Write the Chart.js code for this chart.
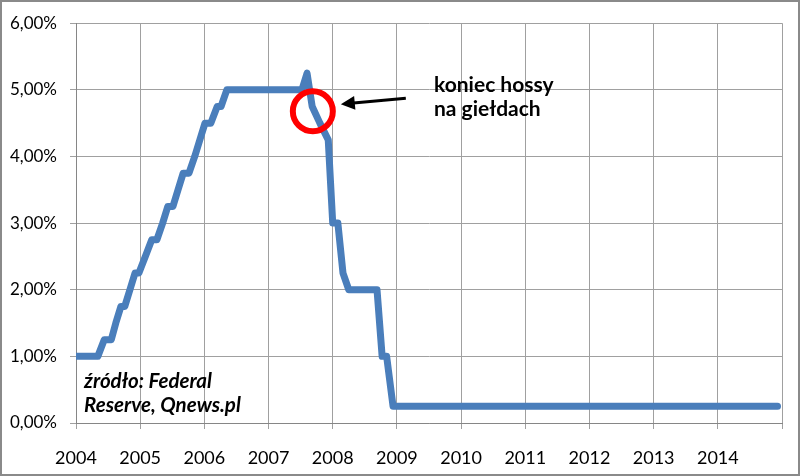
<!DOCTYPE html>
<html>
<head>
<meta charset="utf-8">
<script src="https://cdn.jsdelivr.net/npm/chart.js@4"></script>
<style>
  body { margin: 0; background: #fff; }
  #wrap { width: 800px; height: 476px; }
</style>
</head>
<body>
<div id="wrap"><canvas id="Stopy" width="800" height="476"></canvas></div>
<script>
// stopa funduszy federalnych - punkty (rok dziesietny, %)
const lata = [2004.00, 2004.34, 2004.44, 2004.55, 2004.62, 2004.70, 2004.76, 2004.84, 2004.92, 2004.98,
  2005.08, 2005.18, 2005.26, 2005.35, 2005.43, 2005.51, 2005.59, 2005.67, 2005.76, 2005.85,
  2005.93, 2006.01, 2006.10, 2006.20, 2006.26, 2006.35, 2007.52, 2007.60, 2007.68, 2007.80,
  2007.93, 2008.00, 2008.08, 2008.16, 2008.25, 2008.69, 2008.77, 2008.84, 2008.94, 2014.93];
const stopa = [1.00, 1.00, 1.25, 1.25, 1.50, 1.75, 1.75, 2.00, 2.25, 2.25,
  2.50, 2.75, 2.75, 3.00, 3.25, 3.25, 3.50, 3.75, 3.75, 4.00,
  4.25, 4.50, 4.50, 4.75, 4.75, 5.00, 5.00, 5.25, 4.75, 4.50,
  4.25, 3.00, 3.00, 2.25, 2.00, 2.00, 1.00, 1.00, 0.25, 0.25];
const etykietyLat = ['2004', '2005', '2006', '2007', '2008', '2009', '2010', '2011', '2012', '2013', '2014'];
const tickiY = [0, 1, 2, 3, 4, 5, 6];
const koniecHossy = { x: 2007.69, y: 4.68 };
const podpis = ['koniec hossy', 'na giełdach'];
const zrodlo = ['źródło: Federal', 'Reserve, Qnews.pl'];

const punkty = lata.map((r, i) => ({ x: r, y: stopa[i] }));

const tlo = {
  id: 'tlo',
  beforeDraw(chart) {
    const c = chart.ctx;
    c.save();
    c.fillStyle = '#fff';
    c.fillRect(0, 0, chart.width, chart.height);
    c.restore();
  },
  afterDraw(chart) {
    const c = chart.ctx;
    c.save();
    c.strokeStyle = '#8a8a8a';
    c.lineWidth = 2;
    c.strokeRect(1, 1, chart.width - 2, chart.height - 2);
    c.restore();
  }
};

const adnotacje = {
  id: 'adnotacje',
  afterDatasetsDraw(chart) {
    const c = chart.ctx;
    const sx = chart.scales.x, sy = chart.scales.y;
    const cx = sx.getPixelForValue(koniecHossy.x);
    const cy = sy.getPixelForValue(koniecHossy.y);
    c.save();
    // czerwone kolko
    c.strokeStyle = '#ff0000';
    c.lineWidth = 6;
    c.beginPath();
    c.arc(cx, cy, 20, 0, Math.PI * 2);
    c.stroke();
    // strzalka
    const x0 = cx + 93, y0 = cy - 13, x1 = cx + 28, y1 = cy - 7;
    const ang = Math.atan2(y1 - y0, x1 - x0);
    c.strokeStyle = '#000';
    c.fillStyle = '#000';
    c.lineWidth = 3;
    c.beginPath();
    c.moveTo(x0, y0);
    c.lineTo(x1 - 10 * Math.cos(ang), y1 - 10 * Math.sin(ang));
    c.stroke();
    c.beginPath();
    c.moveTo(x1, y1);
    c.lineTo(x1 - 14 * Math.cos(ang) + 7 * Math.sin(ang), y1 - 14 * Math.sin(ang) - 7 * Math.cos(ang));
    c.lineTo(x1 - 14 * Math.cos(ang) - 7 * Math.sin(ang), y1 - 14 * Math.sin(ang) + 7 * Math.cos(ang));
    c.closePath();
    c.fill();
    // teksty
    c.font = 'bold 21px Lato';
    c.textAlign = 'left';
    c.textBaseline = 'alphabetic';
    c.fillText(podpis[0], 434, 92);
    c.fillText(podpis[1], 434, 116);
    c.font = 'italic bold 20.5px Lato';
    c.fillText(zrodlo[0], 84, 388);
    c.fillText(zrodlo[1], 84, 412);
    c.restore();
  }
};

new Chart(document.getElementById('Stopy').getContext('2d'), {
  type: 'scatter',
  data: {
    datasets: [{
      data: punkty,
      showLine: true,
      borderColor: '#4a7ebb',
      backgroundColor: '#4a7ebb',
      borderWidth: 7,
      borderJoinStyle: 'round',
      borderCapStyle: 'round',
      pointRadius: 0,
      pointHoverRadius: 0,
      tension: 0
    }]
  },
  options: {
    responsive: false,
    animation: false,
    layout: { padding: { top: 22, right: 18, left: 0, bottom: 0 } },
    plugins: { legend: { display: false }, tooltip: { enabled: false } },
    scales: {
      x: {
        type: 'linear',
        min: 2004,
        max: 2015,
        afterFit(s) { s.height = 53; },
        afterBuildTicks(s) { s.ticks = etykietyLat.map(v => ({ value: +v })).concat([{ value: 2015 }]); },
        grid: { color: '#a0a0a0', lineWidth: 1, tickLength: 6, drawTicks: true },
        border: { color: '#868686', width: 1 },
        ticks: {
          autoSkip: false,
          maxRotation: 0,
          padding: 18,
          color: '#000',
          font: { family: 'Lato', size: 18 },
          callback: (v) => etykietyLat.includes(String(v)) ? String(v) : ''
        }
      },
      y: {
        min: 0,
        max: 6,
        afterFit(s) { s.width = 76; },
        afterBuildTicks(s) { s.ticks = tickiY.map(v => ({ value: v })); },
        grid: { color: '#a0a0a0', lineWidth: 1, tickLength: 6 },
        border: { color: '#868686', width: 1 },
        ticks: {
          padding: 13,
          color: '#000',
          font: { family: 'Lato', size: 17 },
          callback: (v) => v.toFixed(2).replace('.', ',') + '%'
        }
      }
    }
  },
  plugins: [tlo, adnotacje]
});
</script>
</body>
</html>
